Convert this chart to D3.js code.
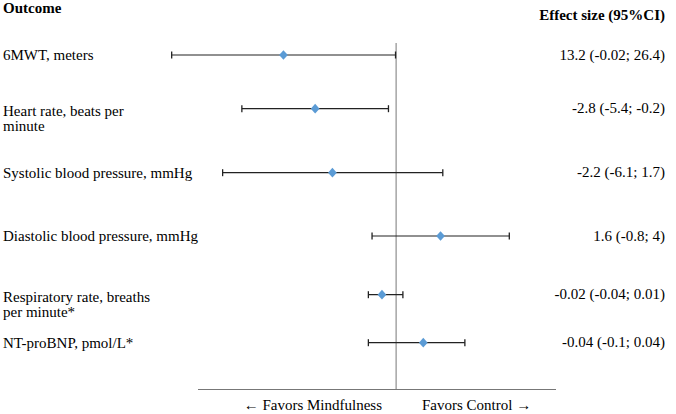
<!DOCTYPE html>
<html><head><meta charset="utf-8">
<script src="https://cdn.jsdelivr.net/npm/d3@7"></script>
<style>html,body{margin:0;padding:0;background:#fff;}svg{display:block;}</style>
</head><body>
<svg id="c" width="676" height="414"></svg>
<script>
// Outcome labels (lines)
const outcomes = [
  ["6MWT, meters"],
  ["Heart rate, beats per", "minute"],
  ["Systolic blood pressure, mmHg"],
  ["Diastolic blood pressure, mmHg"],
  ["Respiratory rate, breaths", "per minute*"],
  ["NT-proBNP, pmol/L*"]
];
const effectLabels = [
  "13.2 (-0.02; 26.4)",
  "-2.8 (-5.4; -0.2)",
  "-2.2 (-6.1; 1.7)",
  "1.6 (-0.8; 4)",
  "-0.02 (-0.04; 0.01)",
  "-0.04 (-0.1; 0.04)"
];
// plotted positions (in the chart's drawing units)
const plotLow   = [-7.93, -5.45, -6.13, -0.85, -0.98, -0.98];
const plotPoint = [-3.98, -2.86, -2.25,  1.57, -0.50,  0.96];
const plotHigh  = [-0.02, -0.27,  1.65,  4.00,  0.24,  2.43];
const rowY = [55, 108.7, 172.7, 236, 294.7, 342.7];
const axisDomain = [-7, 5.65];

const svg = d3.select("#c");
const x = d3.scaleLinear().domain(axisDomain).range([198, 556]);
const font = "'Liberation Serif','Times New Roman',serif";
const fs = 15;

// reference line and axis
svg.append("line").attr("x1", x(0)).attr("x2", x(0)).attr("y1", 43).attr("y2", 389)
  .attr("stroke", "#777").attr("stroke-width", 1);
svg.append("line").attr("x1", x(axisDomain[0])).attr("x2", x(axisDomain[1])).attr("y1", 389.5).attr("y2", 389.5)
  .attr("stroke", "#777").attr("stroke-width", 1);

// headers
svg.append("text").attr("x", 3).attr("y", 12.5).attr("font-family", font).attr("font-size", fs)
  .attr("font-weight", "bold").attr("fill", "#000").text("Outcome");
svg.append("text").attr("x", 665).attr("y", 20).attr("text-anchor", "end").attr("font-family", font)
  .attr("font-size", fs).attr("font-weight", "bold").attr("fill", "#000").text("Effect size (95%CI)");

const rows = svg.selectAll("g.row").data(outcomes.map((o, i) => ({
  lines: o, label: effectLabels[i], lo: plotLow[i], pt: plotPoint[i], hi: plotHigh[i], y: rowY[i]
}))).join("g").attr("class", "row");

rows.each(function(d) {
  const g = d3.select(this);
  const n = d.lines.length;
  const t = g.append("text").attr("font-family", font).attr("font-size", fs).attr("fill", "#000");
  d.lines.forEach((ln, j) => {
    const ly = n === 1 ? d.y + 5 : d.y + 7 + j * 15.5;
    t.append("tspan").attr("x", 3).attr("y", ly).text(ln);
  });
  g.append("text").attr("x", 665).attr("y", d.y + 4.5).attr("text-anchor", "end")
    .attr("font-family", font).attr("font-size", fs).attr("fill", "#000").text(d.label);
  g.append("line").attr("x1", x(d.lo)).attr("x2", x(d.hi)).attr("y1", d.y).attr("y2", d.y)
    .attr("stroke", "#222").attr("stroke-width", 1.2);
  [d.lo, d.hi].forEach(v => g.append("line").attr("x1", x(v)).attr("x2", x(v))
    .attr("y1", d.y - 3.5).attr("y2", d.y + 3.5).attr("stroke", "#222").attr("stroke-width", 1.3));
  g.append("path").attr("d", d3.symbol().type(d3.symbolDiamond2).size(54)())
    .attr("transform", `translate(${x(d.pt)},${d.y}) scale(0.95,1.05)`).attr("fill", "#5B9BD5");
});

svg.append("text").attr("x", 382).attr("y", 410).attr("text-anchor", "end").attr("font-family", font)
  .attr("font-size", fs).attr("fill", "#000").text("\u2190 Favors Mindfulness");
svg.append("text").attr("x", 422).attr("y", 410).attr("font-family", font)
  .attr("font-size", fs).attr("fill", "#000").text("Favors Control \u2192");
</script>
</body></html>
